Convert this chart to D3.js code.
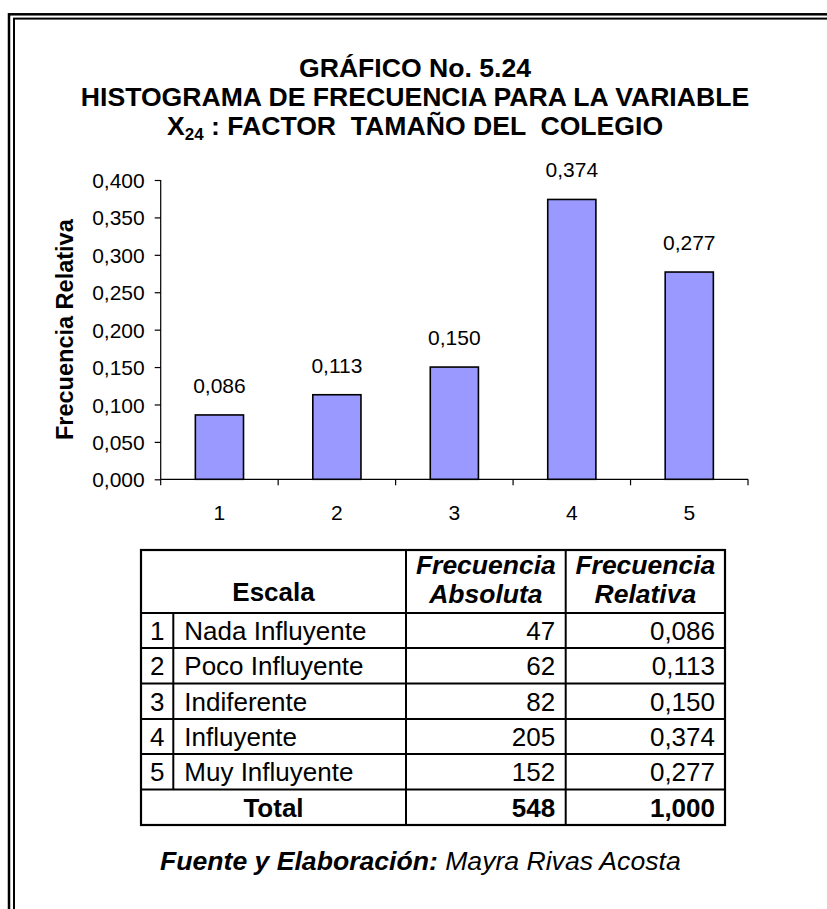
<!DOCTYPE html>
<html>
<head>
<meta charset="utf-8">
<script src="https://cdn.jsdelivr.net/npm/d3@7"></script>
<style>
  html, body { margin: 0; padding: 0; background: #fff; }
  svg { display: block; font-family: "Liberation Sans", Arial, sans-serif; }
  text { white-space: pre; }
</style>
</head>
<body>
<svg id="chart" width="827" height="909"></svg>
<script>
// ---------- data ----------
const categories = ["1", "2", "3", "4", "5"];
const escala = ["Nada Influyente", "Poco Influyente", "Indiferente", "Influyente", "Muy Influyente"];
const absoluta = [47, 62, 82, 205, 152];
const relativa = [0.086, 0.113, 0.150, 0.374, 0.277];
const totalAbs = 548;
const totalRel = 1.000;
const yTicks = [0, 0.05, 0.10, 0.15, 0.20, 0.25, 0.30, 0.35, 0.40];
const titleLines = ["GRÁFICO No. 5.24", "HISTOGRAMA DE FRECUENCIA PARA LA VARIABLE"];
const yAxisTitle = "Frecuencia Relativa";

const loc = d3.formatLocale({decimal: ",", thousands: ".", grouping: [3], currency: ["", ""]});
const f3 = loc.format(".3f");

const svg = d3.select("#chart");

// ---------- frame (double line) ----------
svg.append("rect").attr("x", 9).attr("y", 14.3).attr("width", 900).attr("height", 1000)
  .attr("fill", "none").attr("stroke", "#000").attr("stroke-width", 2.5);
svg.append("rect").attr("x", 14).attr("y", 18.6).attr("width", 900).attr("height", 1000)
  .attr("fill", "none").attr("stroke", "#000").attr("stroke-width", 2);

// ---------- title ----------
const tg = svg.append("g").attr("font-weight", "bold").attr("font-size", 26.6).attr("text-anchor", "middle");
tg.append("text").attr("x", 415).attr("y", 77).text(titleLines[0]);
tg.append("text").attr("x", 415).attr("y", 106).text(titleLines[1]);
const t3 = tg.append("text").attr("x", 415).attr("y", 135);
t3.append("tspan").text("X");
t3.append("tspan").attr("font-size", 17).attr("dy", 5).text("24");
t3.append("tspan").attr("dy", -5).text(" : FACTOR  TAMAÑO DEL  COLEGIO");

// ---------- chart ----------
const x0 = 160.7, x1 = 748, yBase = 479.3, yTop = 180;
const x = d3.scaleBand().domain(categories).range([x0, x1]).paddingInner(0.59).paddingOuter(0.295);
const y = d3.scaleLinear().domain([0, 0.4]).range([yBase, yTop]);

// y axis
const yAxis = svg.append("g").attr("transform", `translate(${x0},0)`)
  .call(d3.axisLeft(y).tickValues(yTicks).tickFormat(f3).tickSize(6).tickPadding(10));
yAxis.select(".domain").attr("stroke", "#000").attr("stroke-width", 1.2).attr("d", `M0,${yTop}V${yBase}`);
yAxis.selectAll(".tick line").attr("stroke", "#000").attr("stroke-width", 1.2);
yAxis.selectAll(".tick text").attr("font-size", 21).attr("fill", "#000")
  .attr("font-family", "Liberation Sans, Arial, sans-serif").attr("dy", "0.36em");

// x axis
const xAxis = svg.append("g").attr("transform", `translate(0,${yBase})`)
  .call(d3.axisBottom(x).tickSize(0).tickPadding(26));
xAxis.select(".domain").attr("stroke", "#000").attr("stroke-width", 1.2).attr("d", `M${x0},0H${x1}`);
xAxis.selectAll(".tick text").attr("font-size", 21).attr("fill", "#000")
  .attr("font-family", "Liberation Sans, Arial, sans-serif");
const step = x.step();
const bounds = categories.map(c => x(c) - (step - x.bandwidth()) / 2).concat([x1]);
xAxis.selectAll(".bnd").data(bounds).join("line").attr("class", "bnd")
  .attr("x1", d => d).attr("x2", d => d).attr("y1", 0).attr("y2", 6)
  .attr("stroke", "#000").attr("stroke-width", 1.2);

// bars
svg.append("g").selectAll("rect").data(categories).join("rect")
  .attr("x", c => x(c)).attr("width", x.bandwidth())
  .attr("y", (c, i) => y(relativa[i])).attr("height", (c, i) => yBase - y(relativa[i]))
  .attr("fill", "#9999FF").attr("stroke", "#000").attr("stroke-width", 1.6);

// value labels
svg.append("g").attr("font-size", 21).attr("text-anchor", "middle").selectAll("text").data(categories).join("text")
  .attr("x", c => x(c) + x.bandwidth() / 2).attr("y", (c, i) => y(relativa[i]) - 22)
  .text((c, i) => f3(relativa[i]));

// y axis title
svg.append("text").attr("transform", `translate(73,${(yTop + yBase) / 2}) rotate(-90)`)
  .attr("text-anchor", "middle").attr("font-weight", "bold").attr("font-size", 23.5).text(yAxisTitle);

// ---------- table ----------
const cols = [141, 173.3, 406, 565.7, 725];
const rowsY = [550, 613, 648, 683.5, 719, 754, 789.5, 825];
const tbl = svg.append("g").attr("font-size", 26);
tbl.append("rect").attr("x", cols[0]).attr("y", rowsY[0]).attr("width", cols[4] - cols[0]).attr("height", rowsY[7] - rowsY[0])
  .attr("fill", "none").attr("stroke", "#000").attr("stroke-width", 2.2);
rowsY.slice(1, 7).forEach(yy => tbl.append("line").attr("x1", cols[0]).attr("x2", cols[4]).attr("y1", yy).attr("y2", yy)
  .attr("stroke", "#000").attr("stroke-width", 2));
tbl.append("line").attr("x1", cols[1]).attr("x2", cols[1]).attr("y1", rowsY[1]).attr("y2", rowsY[6]).attr("stroke", "#000").attr("stroke-width", 2);
[cols[2], cols[3]].forEach(xx => tbl.append("line").attr("x1", xx).attr("x2", xx).attr("y1", rowsY[0]).attr("y2", rowsY[7])
  .attr("stroke", "#000").attr("stroke-width", 2));

// header
tbl.append("text").attr("x", (cols[0] + cols[2]) / 2).attr("y", 601).attr("text-anchor", "middle").attr("font-weight", "bold").text("Escala");
[["Frecuencia", "Absoluta", cols[2], cols[3]], ["Frecuencia", "Relativa", cols[3], cols[4]]].forEach(h => {
  const cx = (h[2] + h[3]) / 2;
  tbl.append("text").attr("x", cx).attr("y", 574).attr("text-anchor", "middle").attr("font-weight", "bold").attr("font-style", "italic").attr("font-size", 26.5).text(h[0]);
  tbl.append("text").attr("x", cx).attr("y", 603).attr("text-anchor", "middle").attr("font-weight", "bold").attr("font-style", "italic").attr("font-size", 26.5).text(h[1]);
});

// body rows
categories.forEach((c, i) => {
  const mid = (rowsY[i + 1] + rowsY[i + 2]) / 2;
  const by = mid + 9.3;
  tbl.append("text").attr("x", (cols[0] + cols[1]) / 2).attr("y", by).attr("text-anchor", "middle").text(c);
  tbl.append("text").attr("x", cols[1] + 11).attr("y", by).text(escala[i]);
  tbl.append("text").attr("x", cols[3] - 10.5).attr("y", by).attr("text-anchor", "end").text(absoluta[i]);
  tbl.append("text").attr("x", cols[4] - 10).attr("y", by).attr("text-anchor", "end").text(f3(relativa[i]));
});
// total row
{
  const mid = (rowsY[6] + rowsY[7]) / 2, by = mid + 9.3;
  tbl.append("text").attr("x", (cols[0] + cols[2]) / 2).attr("y", by).attr("text-anchor", "middle").attr("font-weight", "bold").text("Total");
  tbl.append("text").attr("x", cols[3] - 10.5).attr("y", by).attr("text-anchor", "end").attr("font-weight", "bold").text(totalAbs);
  tbl.append("text").attr("x", cols[4] - 10).attr("y", by).attr("text-anchor", "end").attr("font-weight", "bold").text(f3(totalRel));
}

// ---------- footnote ----------
const fn = svg.append("text").attr("x", 160).attr("y", 870).attr("font-size", 26.6).attr("font-style", "italic");
fn.append("tspan").attr("font-weight", "bold").text("Fuente y Elaboración:");
fn.append("tspan").text(" Mayra Rivas Acosta");
</script>
</body>
</html>
